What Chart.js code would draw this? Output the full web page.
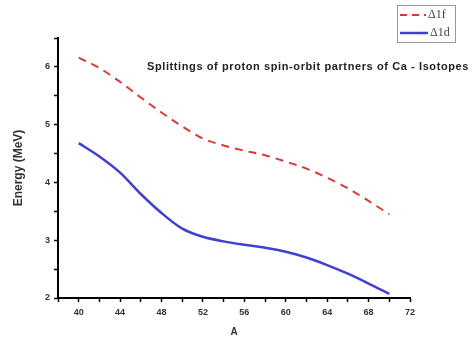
<!DOCTYPE html>
<html>
<head>
<meta charset="utf-8">
<script src="https://cdn.jsdelivr.net/npm/chart.js@4.4.0/dist/chart.umd.min.js"></script>
<style>
  html, body { margin: 0; padding: 0; background: #fff; }
  #wrap { width: 473px; height: 342px; }
</style>
</head>
<body>
<div id="wrap"><canvas id="chart" width="473" height="342"></canvas></div>
<script>
const massNumbers = [40, 42, 44, 46, 48, 50, 52, 54, 56, 58, 60, 62, 64, 66, 68, 70];
const delta1f = [6.16, 5.98, 5.74, 5.47, 5.21, 4.97, 4.76, 4.64, 4.55, 4.47, 4.36, 4.24, 4.08, 3.9, 3.68, 3.45];
const delta1d = [4.68, 4.45, 4.17, 3.8, 3.47, 3.2, 3.06, 2.98, 2.92, 2.87, 2.8, 2.7, 2.57, 2.42, 2.25, 2.07];
const seriesNames = ['\u03941f', '\u03941d'];
const chartTitle = 'Splittings of proton spin-orbit partners of Ca - Isotopes';

const toPoints = (ys) => massNumbers.map((x, i) => ({ x: x, y: ys[i] }));

// title sits inside the plot area, legend box top right
const overlayPlugin = {
    id: 'overlay',
    afterDraw(chart) {
        const ctx = chart.ctx;
        ctx.save();
        ctx.fillStyle = '#222';
        ctx.font = 'bold 11px "Liberation Sans", Arial, sans-serif';
        ctx.letterSpacing = '0.6px';
        ctx.textBaseline = 'middle';
        ctx.textAlign = 'left';
        ctx.fillText(chartTitle, 147, 67);
        ctx.letterSpacing = '0px';

        // legend
        ctx.strokeStyle = '#999';
        ctx.lineWidth = 1;
        ctx.strokeRect(397.5, 5.5, 58, 37);
        ctx.lineWidth = 2;
        ctx.strokeStyle = '#d83a3a';
        ctx.setLineDash([7, 5]);
        ctx.beginPath(); ctx.moveTo(400, 15); ctx.lineTo(426, 15); ctx.stroke();
        ctx.setLineDash([]);
        ctx.strokeStyle = '#4040d0';
        ctx.lineWidth = 2.5;
        ctx.beginPath(); ctx.moveTo(400, 33); ctx.lineTo(428, 33); ctx.stroke();
        ctx.fillStyle = '#444';
        ctx.font = '12px "Liberation Serif", "DejaVu Serif", serif';
        ctx.fillText(seriesNames[0], 428, 15);
        ctx.fillText(seriesNames[1], 430, 33);
        ctx.restore();
    }
};

const ctx = document.getElementById('chart').getContext('2d');
new Chart(ctx, {
    type: 'line',
    data: {
        datasets: [{
            label: seriesNames[0],
            data: toPoints(delta1f),
            borderColor: '#d83a3a',
            borderWidth: 2,
            borderDash: [8, 6],
            pointRadius: 0,
            cubicInterpolationMode: 'monotone',
            fill: false
        }, {
            label: seriesNames[1],
            data: toPoints(delta1d),
            borderColor: '#4040d0',
            borderWidth: 2.5,
            pointRadius: 0,
            cubicInterpolationMode: 'monotone',
            fill: false
        }]
    },
    options: {
        responsive: false,
        animation: false,
        layout: { padding: { left: 0, right: 63, top: 38, bottom: 0 } },
        plugins: {
            legend: { display: false },
            tooltip: { enabled: false }
        },
        scales: {
            x: {
                type: 'linear',
                min: 38,
                max: 72,
                afterFit: (scale) => { scale.height = 44; },
                border: { color: '#000', width: 2 },
                grid: { drawOnChartArea: false, color: '#000', tickLength: 4, tickWidth: 1.5 },
                ticks: {
                    stepSize: 2,
                    autoSkip: false,
                    maxRotation: 0,
                    color: '#333',
                    padding: 5,
                    font: { family: '"Liberation Sans", Arial, sans-serif', size: 9, weight: 'bold' },
                    callback: (v) => (v % 4 === 0 ? v : '')
                },
                title: {
                    display: true,
                    text: 'A',
                    color: '#333',
                    padding: { top: 4, bottom: 4 },
                    font: { family: '"Liberation Sans", Arial, sans-serif', size: 10, weight: 'bold' }
                }
            },
            y: {
                min: 2,
                max: 6.5,
                afterFit: (scale) => { scale.width = 58; },
                border: { color: '#000', width: 2 },
                grid: { drawOnChartArea: false, color: '#000', tickLength: 4, tickWidth: 1.5 },
                ticks: {
                    stepSize: 0.5,
                    autoSkip: false,
                    color: '#333',
                    padding: 4,
                    font: { family: '"Liberation Sans", Arial, sans-serif', size: 9, weight: 'bold' },
                    callback: (v) => (Number.isInteger(v) ? v : '')
                },
                title: {
                    display: true,
                    text: 'Energy (MeV)',
                    color: '#333',
                    padding: { top: 11, bottom: 0 },
                    font: { family: '"Liberation Sans", Arial, sans-serif', size: 12, weight: 'bold' }
                }
            }
        }
    },
    plugins: [overlayPlugin]
});
</script>
</body>
</html>
